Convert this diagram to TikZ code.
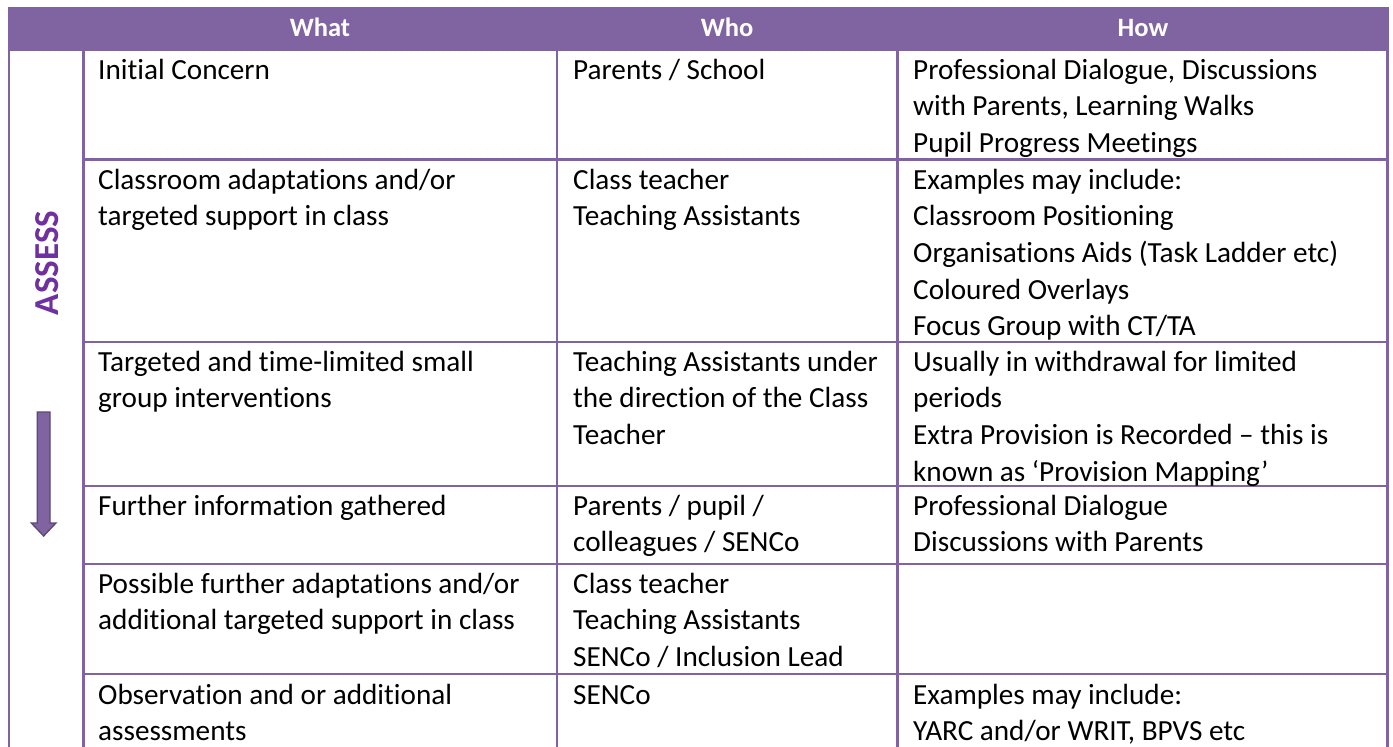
\documentclass[tikz,border=0pt]{standalone}
\usepackage{fontspec}
\setmainfont{Carlito}[Ligatures=NoCommon]
\definecolor{hdr}{HTML}{8064A2}
\definecolor{assesscol}{HTML}{7030A0}
\definecolor{arrowline}{HTML}{5C4776}
\newcommand{\bodyfnt}{\fontsize{29.2pt}{36.6pt}\selectfont}
\newcommand{\hdrfnt}{\fontsize{26.5pt}{30pt}\selectfont\bfseries}
\newcommand{\assessfnt}{\fontsize{35pt}{40pt}\selectfont\bfseries}
\tikzset{
  cell/.style={anchor=north west, inner sep=0pt, align=left, font=\bodyfnt, text=black},
  hdrtext/.style={anchor=base, inner sep=0pt, font=\hdrfnt, text=white},
  grid/.style={draw=hdr, line width=2.8pt},
}
\begin{document}
\begin{tikzpicture}[x=1pt,y=-1pt]
\useasboundingbox (0,0) rectangle (1393,747);
\fill[white] (0,0) rectangle (1393,747);
% header
\fill[hdr] (7.5,7) rectangle (1389,50.5);
\node[hdrtext] (hwhat) at (320,36) {What};
\node[hdrtext] (hwho) at (727,36) {Who};
\node[hdrtext] (hhow) at (1143,36) {How};
% vertical lines
\draw[grid] (9,49) -- (9,747);
\draw[grid] (1387.5,49) -- (1387.5,747);
\draw[grid] (83.5,49) -- (83.5,747);
\draw[grid] (557,49) -- (557,747);
\draw[grid] (897.5,49) -- (897.5,747);
% horizontal lines
\foreach \yy in {159.3,342,486,564,674}{
  \draw[grid] (82,\yy) -- (1389,\yy);
}
% ASSESS label and arrow
\node[rotate=90, inner sep=0pt, font=\assessfnt, text=assesscol] (assess) at (47.5,263) {ASSESS};
\draw[fill=hdr, draw=arrowline, line width=1.3pt, line join=miter]
  (37.3,412) -- (50,412) -- (50,523) -- (56,523) -- (43.65,536) -- (31.3,523) -- (37.3,523) -- cycle;
% row 1
\def\rb{79}
\node[cell] (r1a) at (98,\rb-25.62) {\strut Initial Concern};
\node[cell] (r1b) at (573,\rb-25.62) {\strut Parents / School};
\node[cell] (r1c) at (913,\rb-25.62) {\strut Professional Dialogue, Discussions\\ with Parents, Learning Walks\\ Pupil Progress Meetings};
% row 2
\def\rb{189}
\node[cell] (r2a) at (98,\rb-25.62) {\strut Classroom adaptations and/or\\ targeted support in class};
\node[cell] (r2b) at (573,\rb-25.62) {\strut Class teacher\\ Teaching Assistants};
\node[cell] (r2c) at (913,\rb-25.62) {\strut Examples may include:\\ Classroom Positioning\\ Organisations Aids (Task Ladder etc)\\ Coloured Overlays\\ Focus Group with CT/TA};
% row 3
\def\rb{371}
\node[cell] (r3a) at (98,\rb-25.62) {\strut Targeted and time-limited small\\ group interventions};
\node[cell] (r3b) at (573,\rb-25.62) {\strut Teaching Assistants under\\ the direction of the Class\\ Teacher};
\node[cell] (r3c) at (913,\rb-25.62) {\strut Usually in withdrawal for limited\\ periods\\ Extra Provision is Recorded – this is\\ known as ‘Provision Mapping’};
% row 4
\def\rb{515}
\node[cell] (r4a) at (98,\rb-25.62) {\strut Further information gathered};
\node[cell] (r4b) at (573,\rb-25.62) {\strut Parents / pupil /\\ colleagues / SENCo};
\node[cell] (r4c) at (913,\rb-25.62) {\strut Professional Dialogue\\ Discussions with Parents};
% row 5
\def\rb{593}
\node[cell] (r5a) at (98,\rb-25.62) {\strut Possible further adaptations and/or\\ additional targeted support in class};
\node[cell] (r5b) at (573,\rb-25.62) {\strut Class teacher\\ Teaching Assistants\\ SENCo / Inclusion Lead};
% row 6
\def\rb{704}
\node[cell] (r6a) at (98,\rb-25.62) {\strut Observation and or additional\\ assessments};
\node[cell] (r6b) at (573,\rb-25.62) {\strut SENCo};
\node[cell] (r6c) at (913,\rb-25.62) {\strut Examples may include:\\ YARC and/or WRIT, BPVS etc};
\end{tikzpicture}
\end{document}
